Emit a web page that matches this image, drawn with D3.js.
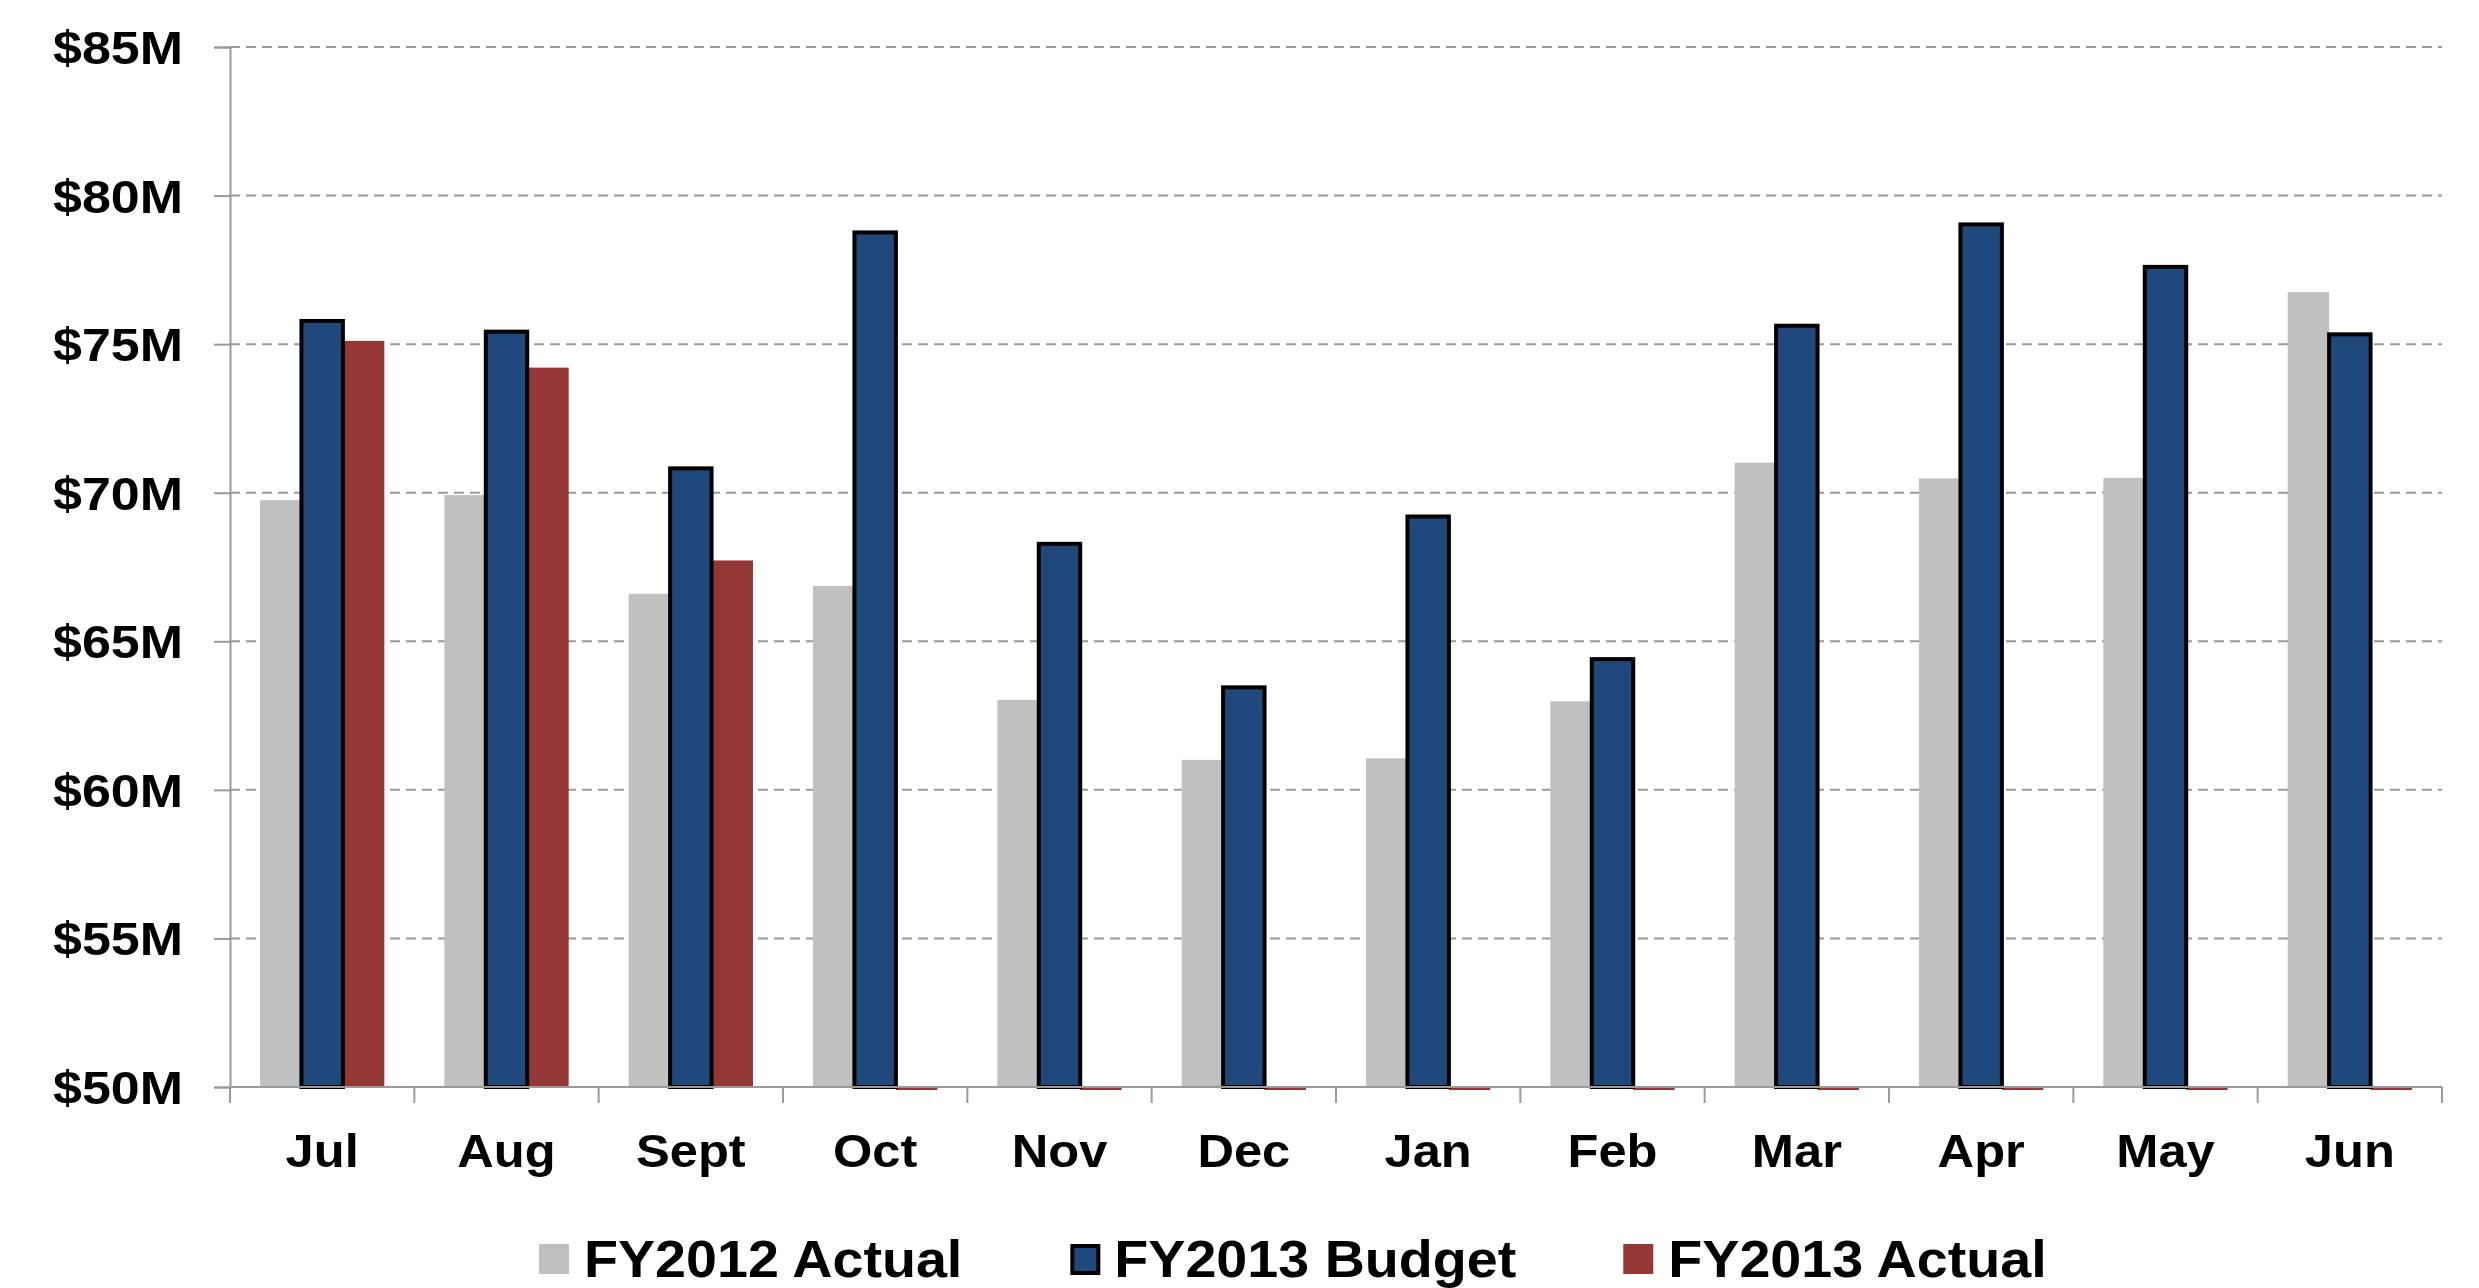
<!DOCTYPE html>
<html>
<head>
<meta charset="utf-8">
<script src="https://cdn.jsdelivr.net/npm/d3@7"></script>
<style>
  body { margin: 0; background: #fff; }
  svg text { font-family: "Liberation Sans", Arial, sans-serif; font-weight: bold; fill: #000; }
</style>
</head>
<body>
<svg id="viz"></svg>
<script>
// months on the x axis
var months = ['Jul', 'Aug', 'Sept', 'Oct', 'Nov', 'Dec', 'Jan', 'Feb', 'Mar', 'Apr', 'May', 'Jun'];

// values in $M
var fy2012Actual = [69.75, 69.92, 66.6, 66.86, 63.03, 61.01, 61.06, 62.98, 71.01, 70.48, 70.5, 76.75];
var fy2013Budget = [75.78, 75.42, 70.82, 78.76, 68.28, 63.45, 69.2, 64.4, 75.62, 79.03, 77.6, 75.33];
var fy2013Actual = [75.11, 74.21, 67.72, 0, 0, 0, 0, 0, 0, 0, 0, 0];

var seriesNames = ['FY2012 Actual', 'FY2013 Budget', 'FY2013 Actual'];
var yTicks = [50, 55, 60, 65, 70, 75, 80, 85];

var width = 2479;
var height = 1288;
var margin = { top: 47, right: 37, bottom: 201, left: 230 };
var drawWidth = width - margin.left - margin.right;
var drawHeight = height - margin.top - margin.bottom;

var colors = { 'FY2012 Actual': '#c0c0c0', 'FY2013 Budget': '#1f497d', 'FY2013 Actual': '#953735' };
var axisGrey = '#9a9a9a';

var svg = d3.select('#viz')
    .attr('width', width)
    .attr('height', height);

var g = svg.append('g')
    .attr('transform', `translate(${margin.left}, ${margin.top})`);

var xScale = d3.scaleBand()
    .domain(months)
    .range([0, drawWidth]);

var innerPad = 30;
var xSeries = d3.scaleBand()
    .domain(seriesNames)
    .range([innerPad, xScale.bandwidth() - innerPad]);

var yScale = d3.scaleLinear()
    .domain([50, 85])
    .range([drawHeight, 0])
    .clamp(true);

// stretch text a bit wider, the source font is wider than Arial
function stretch(sel, k) {
    sel.each(function() {
        var len = this.getComputedTextLength();
        d3.select(this).attr('textLength', len * k).attr('lengthAdjust', 'spacingAndGlyphs');
    });
}

// gridlines
g.selectAll('.grid')
    .data(yTicks.filter(d => d > 50))
    .enter().append('line')
    .attr('x1', 0)
    .attr('x2', drawWidth)
    .attr('y1', d => yScale(d))
    .attr('y2', d => yScale(d))
    .attr('stroke', axisGrey)
    .attr('stroke-width', 2)
    .attr('stroke-dasharray', '10,6');

// y axis
var yAxis = d3.axisLeft(yScale)
    .tickValues(yTicks)
    .tickSize(16)
    .tickPadding(31)
    .tickFormat(d => `$${d}M`);

var yG = g.append('g').call(yAxis);
yG.select('.domain').attr('stroke', axisGrey).attr('stroke-width', 2);
yG.selectAll('.tick line').attr('stroke', axisGrey).attr('stroke-width', 2);
yG.selectAll('.tick text')
    .attr('font-size', 46)
    .attr('dy', '0.36em')
    .style('font-family', '"Liberation Sans", Arial, sans-serif')
    .style('font-weight', 'bold')
    .attr('fill', '#000')
    .call(stretch, 1.13);

// bars
var seriesData = [fy2012Actual, fy2013Actual, fy2013Budget];
var seriesOrder = ['FY2012 Actual', 'FY2013 Actual', 'FY2013 Budget'];

seriesOrder.forEach(function(name, si) {
    var vals = seriesData[si];
    g.append('g')
        .selectAll('rect')
        .data(months.map((m, i) => ({ month: m, value: vals[i] })))
        .enter().append('rect')
        .attr('x', d => xScale(d.month) + xSeries(name))
        .attr('width', xSeries.bandwidth())
        .attr('y', d => d.value > 50 ? yScale(d.value) : drawHeight + 1)
        .attr('height', d => d.value > 50 ? drawHeight - yScale(d.value) : 2)
        .attr('fill', colors[name])
        .attr('stroke', name === 'FY2013 Budget' ? '#000' : 'none')
        .attr('stroke-width', 4);
});

// x axis
g.append('line')
    .attr('x1', 0).attr('x2', drawWidth)
    .attr('y1', drawHeight).attr('y2', drawHeight)
    .attr('stroke', axisGrey).attr('stroke-width', 2);

var bounds = months.map(m => xScale(m)).concat([xScale.range()[1]]);
g.selectAll('.xtick')
    .data(bounds)
    .enter().append('line')
    .attr('x1', d => d).attr('x2', d => d)
    .attr('y1', drawHeight).attr('y2', drawHeight + 16)
    .attr('stroke', axisGrey).attr('stroke-width', 2);

var xAxis = d3.axisBottom(xScale).tickSize(0).tickPadding(0);
var xG = g.append('g')
    .attr('transform', `translate(0, ${drawHeight})`)
    .call(xAxis);
xG.select('.domain').remove();
xG.selectAll('.tick text')
    .attr('y', 80)
    .attr('dy', 0)
    .attr('font-size', 46)
    .style('font-family', '"Liberation Sans", Arial, sans-serif')
    .style('font-weight', 'bold')
    .attr('fill', '#000')
    .call(stretch, 1.1);

// legend
var legend = svg.append('g').attr('transform', 'translate(539, 1244)');
var lx = 0;
seriesNames.forEach(function(name) {
    var item = legend.append('g').attr('transform', `translate(${lx}, 0)`);
    var isBudget = name === 'FY2013 Budget';
    item.append('rect')
        .attr('x', isBudget ? 3 : 0)
        .attr('y', isBudget ? 2 : 0)
        .attr('width', isBudget ? 26 : 30)
        .attr('height', isBudget ? 27 : 30)
        .attr('fill', colors[name])
        .attr('stroke', isBudget ? '#000' : 'none')
        .attr('stroke-width', 4);
    var t = item.append('text')
        .attr('x', 45)
        .attr('y', 33)
        .attr('font-size', 52)
        .text(name);
    var len = t.node().getComputedTextLength();
    t.attr('textLength', len * 1.07).attr('lengthAdjust', 'spacingAndGlyphs');
    lx += 45 + len * 1.07 + 107;
});
</script>
</body>
</html>
